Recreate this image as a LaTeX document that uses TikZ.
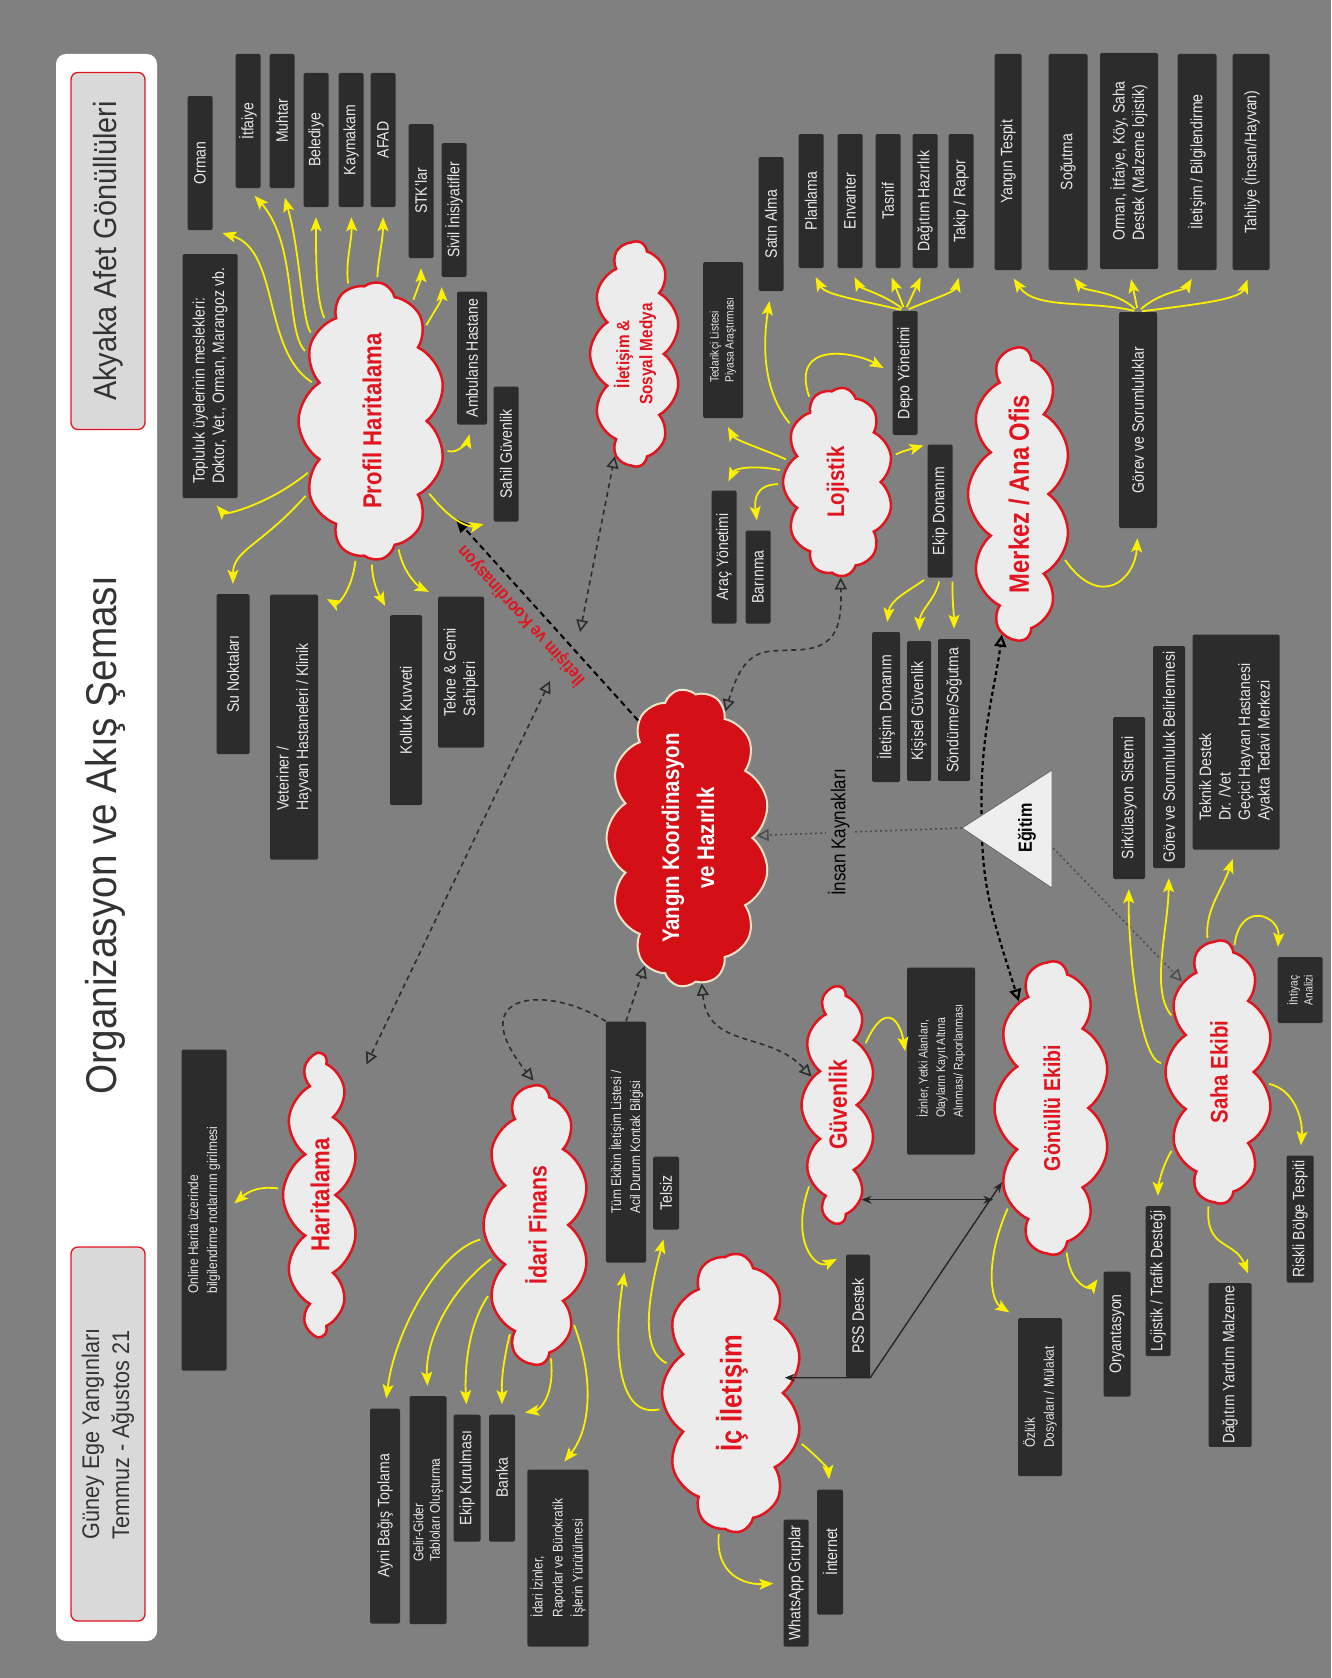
\documentclass[tikz,border=0pt]{standalone}
\usepackage{fontspec}
\setmainfont{Liberation Sans}[FakeStretch=0.85]
\newfontfamily\baslikfont{Liberation Sans}[FakeStretch=0.9]
\usetikzlibrary{positioning,shapes.symbols,shapes.geometric,arrows.meta}

\definecolor{zemin}{RGB}{128,128,128}
\definecolor{kutukoyu}{RGB}{44,44,44}
\definecolor{kutuyazi}{RGB}{232,232,232}
\definecolor{bulutdolgu}{RGB}{236,236,236}
\definecolor{bulutkirmizi}{RGB}{226,20,30}
\definecolor{merkezkirmizi}{RGB}{212,16,22}
\definecolor{krem}{RGB}{242,228,200}
\definecolor{oksari}{RGB}{250,240,0}
\definecolor{kesikgri}{RGB}{45,45,45}
\definecolor{ucgen}{RGB}{238,238,238}

\tikzset{
  kutu/.style={fill=kutukoyu, text=kutuyazi, rotate=90, rounded corners=1.5pt, inner sep=3pt,
    align=left, minimum height=25pt, font=\fontsize{16.5}{19.5}\selectfont},
  kucukkutu/.style={kutu, font=\fontsize{12}{15}\selectfont},
  ortakutu/.style={kutu, font=\fontsize{14}{19}\selectfont},
  bulut/.style={cloud, cloud puffs=11, cloud puff arc=115, cloud ignores aspect, draw=bulutkirmizi,
    line width=2.5pt, fill=bulutdolgu, text=bulutkirmizi, rotate=90, inner sep=0pt, align=center,
    font=\bfseries\fontsize{24}{28}\selectfont},
  anabulut/.style={bulut, cloud puffs=13, fill=merkezkirmizi, draw=krem, line width=2pt, text=white,
    font=\bfseries\fontsize{24}{35}\selectfont},
  baslikkutu/.style={fill=bulutdolgu!92!black, draw=bulutkirmizi, line width=1.3pt, rounded corners=7pt,
    rotate=90, align=left, text=black!80, font=\baslikfont\fontsize{24}{30}\selectfont},
  ok/.style={draw=oksari, line width=1.8pt, shorten >=10pt, shorten <=4pt,
    -{Stealth[length=14pt,width=11pt,inset=3pt]}},
  bag/.style={draw=kesikgri, line width=1.6pt, dash pattern=on 5pt off 4pt},
  agirbag/.style={draw=black, line width=2.2pt, dash pattern=on 4pt off 3pt},
  noktali/.style={draw=black!70, line width=1.5pt, dash pattern=on 2pt off 3pt},
  uc/.style={-{Triangle[open,length=12pt,width=12pt]}},
  ikiuc/.style={{Triangle[open,length=12pt,width=12pt]}-{Triangle[open,length=12pt,width=12pt]}},
  anabag/.style={draw=black, line width=2pt, dash pattern=on 6pt off 4pt, -{Triangle[length=14pt,width=12pt]}},
  siyahok/.style={draw=black!85, line width=1.4pt,
    {Stealth[length=10pt,width=8pt]}-{Stealth[length=10pt,width=8pt]}}
}

\begin{document}
\begin{tikzpicture}[x=1pt, y=-1pt]
    \useasboundingbox (0,0) rectangle (1331,1678);
    \fill[zemin] (0,0) rectangle (1331,1678);

    % Title panel
    \fill[white, rounded corners=10pt] (56,54) rectangle (157,1641);
    \node[baslikkutu, minimum width=357pt, minimum height=74pt,
      font=\baslikfont\fontsize{32}{36}\selectfont] (akyaka) at (108,251) {Akyaka Afet Gönüllüleri};
    \node[baslikkutu, minimum width=374pt, minimum height=74pt] (guney) at (108,1434)
      {Güney Ege Yangınları\\Temmuz - Ağustos 21};
    \node[rotate=90, text=black!80, font=\baslikfont\fontsize{43}{48}\selectfont] (baslik) at (105,835)
      {Organizasyon ve Akış Şeması};

    % Clouds
    \node[anabulut, minimum width=293pt, minimum height=163pt] (yangin) at (688,838)
      {Yangın Koordinasyon\\ve Hazırlık};
    \node[bulut, minimum width=278pt, minimum height=147pt, font=\bfseries\fontsize{26}{30}\selectfont]
      (profil) at (372,421) {Profil Haritalama};
    \node[bulut, minimum width=225pt, minimum height=90pt, font=\bfseries\fontsize{18}{23}\selectfont]
      (sosyal) at (635,354) {İletişim \&\\Sosyal Medya};
    \node[bulut, minimum width=189pt, minimum height=110pt] (lojistik) at (838,482) {Lojistik};
    \node[bulut, minimum width=292pt, minimum height=102pt, font=\bfseries\fontsize{28}{30}\selectfont]
      (merkez) at (1019,494) {Merkez / Ana Ofis};
    \node[bulut, minimum width=281pt, minimum height=74pt, font=\bfseries\fontsize{26}{30}\selectfont]
      (haritalama) at (320,1195) {Haritalama};
    \node[bulut, minimum width=279pt, minimum height=105pt, font=\bfseries\fontsize{25}{30}\selectfont]
      (idari) at (536,1225) {İdari Finans};
    \node[bulut, minimum width=279pt, minimum height=140pt, font=\bfseries\fontsize{30}{32}\selectfont]
      (iciletisim) at (732,1393) {İç İletişim};
    \node[bulut, minimum width=236pt, minimum height=73pt, font=\bfseries\fontsize{25}{30}\selectfont]
      (guvenlik) at (838,1105) {Güvenlik};
    \node[bulut, minimum width=293pt, minimum height=115pt, font=\bfseries\fontsize{23}{28}\selectfont]
      (gonullu) at (1052,1108) {Gönüllü Ekibi};
    \node[bulut, minimum width=263pt, minimum height=107pt] (saha) at (1219,1072) {Saha Ekibi};

    % Profil Haritalama boxes
    \foreach \n/\x/\y/\t in {orman/200/163/Orman, itfaiye/248/121/İtfaiye, muhtar/282/121/Muhtar,
        belediye/316/140/Belediye, kaymakam/351/140/Kaymakam, afad/383/140/AFAD,
        stk/421/191/STK'lar, sivil/454/210/Sivil İnisiyatifler} {
        \node[kutu, minimum width=134pt] (\n) at (\x,\y) {\t};
    }
    \node[kutu, minimum width=133pt, minimum height=30pt] (ambulans) at (472,358) {Ambulans Hastane};
    \node[kutu, minimum width=135pt] (sahil) at (506,454) {Sahil Güvenlik};
    \node[kutu, minimum width=244pt, minimum height=55pt] (topluluk) at (210,376)
      {Topluluk üyelerinin meslekleri:\\Doktor, Vet., Orman, Marangoz vb.};
    \node[kutu, minimum width=160pt, minimum height=33pt] (sunoktalari) at (233,674) {Su Noktaları};
    \node[kutu, minimum width=265pt, minimum height=48pt] (veteriner) at (294,727)
      {Veteriner /\\Hayvan Hastaneleri / Klinik};
    \node[kutu, minimum width=190pt, minimum height=32pt] (kolluk) at (406,710) {Kolluk Kuvveti};
    \node[kutu, minimum width=151pt, minimum height=46pt] (tekne) at (461,672) {Tekne \& Gemi\\Sahipleri};

    % Lojistik boxes
    \foreach \n/\x/\y/\t in {satinalma/771/224/Satın Alma, planlama/811/201/Planlama,
        envanter/850/201/Envanter, tasnif/888/201/Tasnif, dagitim/925/201/Dağıtım Hazırlık,
        takip/961/201/{Takip / Rapor}} {
        \node[kutu, minimum width=134pt] (\n) at (\x,\y) {\t};
    }
    \node[kucukkutu, minimum width=156pt, minimum height=40pt] (tedarikci) at (723,340)
      {Tedarikçi Listesi\\Piyasa Araştırması};
    \node[kutu, minimum width=133pt] (arac) at (724,557) {Araç Yönetimi};
    \node[kutu, minimum width=93pt] (barinma) at (758,577) {Barınma};
    \node[kutu, minimum width=124pt] (depo) at (905,373) {Depo Yönetimi};
    \node[kutu, minimum width=133pt] (ekipdonanim) at (940,511) {Ekip Donanım};
    \node[kutu, minimum width=150pt, minimum height=28pt] (iletisimdonanim) at (886,707) {İletişim Donanım};
    \node[kutu, minimum width=140pt, minimum height=24pt] (kisisel) at (919,711) {Kişisel Güvenlik};
    \node[kutu, minimum width=142pt, minimum height=32pt] (sondurme) at (954,710) {Söndürme/Soğutma};

    % Merkez boxes
    \node[kutu, minimum width=216pt, minimum height=38pt] (gorev) at (1138,420) {Görev ve Sorumluluklar};
    \foreach \n/\x/\w/\t in {yangintespit/1008/27/Yangın Tespit, sogutma/1068/39/Soğutma,
        iletisimbilg/1197/39/{İletişim / Bilgilendirme}, tahliye/1251/37/{Tahliye (İnsan/Hayvan)}} {
        \node[kutu, minimum width=216pt, minimum height=\w pt] (\n) at (\x,162) {\t};
    }
    \node[kutu, minimum width=216pt, minimum height=58pt] (ormanitfaiye) at (1129,161)
      {Orman, İtfaiye, Köy, Saha\\Destek (Malzeme lojistik)};

    % Saha boxes
    \node[kutu, minimum width=162pt, minimum height=32pt] (sirkulasyon) at (1129,798) {Sirkülasyon Sistemi};
    \node[kutu, minimum width=222pt, minimum height=32pt] (gorevbel) at (1169,757)
      {Görev ve Sorumluluk Belirlenmesi};
    \node[kutu, minimum width=215pt, minimum height=87pt] (teknik) at (1236,742)
      {Teknik Destek\\Dr. /Vet\\Geçici Hayvan Hastanesi\\Ayakta Tedavi Merkezi};
    \node[kucukkutu, minimum width=66pt, minimum height=45pt] (ihtiyac) at (1300,990) {İhtiyaç\\Analizi};
    \node[kutu, minimum width=127pt, minimum height=27pt] (riskli) at (1300,1219) {Riskli Bölge Tespiti};
    \node[kutu, minimum width=157pt, minimum height=43pt] (dagitimyardim) at (1230,1365)
      {Dağıtım Yardım Malzeme};
    \node[kutu, minimum width=150pt] (lojistiktrafik) at (1158,1281) {Lojistik / Trafik Desteği};

    % Gonullu and Guvenlik boxes
    \node[kutu, minimum width=125pt, minimum height=27pt] (oryantasyon) at (1117,1334) {Oryantasyon};
    \node[ortakutu, minimum width=158pt, minimum height=44pt] (ozluk) at (1040,1397)
      {Özlük\\Dosyaları / Mülakat};
    \node[kucukkutu, minimum width=187pt, minimum height=68pt, font=\fontsize{12.5}{17.5}\selectfont]
      (izinler) at (941,1061) {İzinler, Yetki Alanları,\\Olayların Kayıt Altına\\Alınması/ Raporlanması};
    \node[kutu, minimum width=123pt, minimum height=24pt] (pss) at (858,1316) {PSS Destek};

    % Ic Iletisim boxes
    \node[ortakutu, minimum width=241pt, minimum height=38pt] (tumekip) at (626,1142)
      {Tüm Ekibin İletişim Listesi /\\Acil Durum Kontak Bilgisi};
    \node[kutu, minimum width=73pt, minimum height=26pt] (telsiz) at (666,1193) {Telsiz};
    \node[kutu, minimum width=127pt] (whatsapp) at (796,1583) {WhatsApp Gruplar};
    \node[kutu, minimum width=125pt, minimum height=26pt] (internet) at (830,1552) {İnternet};

    % Idari Finans boxes
    \node[kutu, minimum width=215pt, minimum height=30pt] (ayni) at (385,1516) {Ayni Bağış Toplama};
    \node[ortakutu, minimum width=228pt, minimum height=37pt, font=\fontsize{14}{16.5}\selectfont]
      (gelir) at (428,1510) {Gelir-Gider\\Tabloları Oluşturma};
    \node[kutu, minimum width=127pt, minimum height=27pt] (ekipkur) at (467,1478) {Ekip Kurulması};
    \node[kutu, minimum width=127pt, minimum height=26pt] (banka) at (502,1478) {Banka};
    \node[ortakutu, minimum width=177pt, minimum height=61pt, font=\fontsize{14}{20}\selectfont]
      (idariizin) at (558,1558) {İdari İzinler,\\Raporlar ve Bürokratik\\İşlerin Yürütülmesi};

    % Haritalama box
    \node[ortakutu, minimum width=321pt, minimum height=45pt] (online) at (204,1210)
      {Online Harita üzerinde\\bilgilendirme notlarının girilmesi};

    % Dashed links to the centre
    \coordinate (sosyaluc) at (580,632);
    \coordinate (haritauc) at (550,681);
    \draw[bag, ikiuc] (sosyaluc) -- (sosyal);
    \draw[bag, ikiuc, shorten >=62pt] (haritauc) -- (haritalama.south east);
    \draw[bag, ikiuc] (yangin) .. controls (745,645) and (765,652) .. (792,650)
      .. controls (835,650) and (842,630) .. (lojistik);
    \draw[bag, uc] (tumekip.east) -- (yangin);
    \draw[bag, uc, shorten >=4pt] (tumekip.north east) .. controls (550,985) and (460,990) .. (idari.east);
    \draw[bag, ikiuc] (yangin) .. controls (708,1050) and (768,1030) .. (guvenlik);
    \draw[anabag, shorten >=40pt] (yangin.23) -- (profil.220)
      node[pos=0.5, sloped, allow upside down, above=3pt, text=bulutkirmizi,
        font=\bfseries\fontsize{18}{20}\selectfont] {İletişim ve Koordinasyon};

    % Egitim
    \coordinate (egtip) at (962,828);
    \coordinate (eghub) at (982,828);
    \coordinate (egbase) at (1053,848);
    \draw[agirbag, uc] (eghub) .. controls (978,740) and (995,690) .. (merkez);
    \draw[agirbag, uc] (eghub) .. controls (982,890) and (995,925) .. (gonullu);
    \draw[noktali, uc] (egtip) -- (yangin)
      node[pos=0.6, rotate=90, fill=zemin, inner sep=2pt, text=black,
        font=\fontsize{20}{22}\selectfont] (insan) {İnsan Kaynakları};
    \draw[noktali, uc] (egbase) -- (saha.north east);
    \filldraw[fill=ucgen, draw=black!60, line width=0.8pt] (egtip) -- (1052,770) -- (1052,888) -- cycle;
    \node[rotate=90, font=\bfseries\fontsize{19}{22}\selectfont] (egitim) at (1027,828) {Eğitim};

    % Black arrows
    \draw[siyahok] (guvenlik.194) -- (guvenlik.194 -| gonullu.north);
    \draw[siyahok] (pss.south west -| iciletisim.south) -- (pss.south west) -- (gonullu);

    % Profil Haritalama arrows
    \draw[ok] (profil) .. controls (262,350) and (280,250) .. (orman.south west);
    \draw[ok] (profil) .. controls (285,330) and (298,245) .. (itfaiye.west);
    \draw[ok] (profil) .. controls (302,320) and (300,250) .. (muhtar.west);
    \draw[ok] (profil) .. controls (316,300) and (316,260) .. (belediye.west);
    \draw[ok] (profil) .. controls (345,265) and (352,240) .. (kaymakam.west);
    \draw[ok] (profil) .. controls (378,260) and (383,240) .. (afad.west);
    \draw[ok] (profil) .. controls (415,295) and (421,280) .. (stk.west);
    \draw[ok] (profil) .. controls (435,310) and (442,300) .. (sivil.north west);
    \draw[ok] (profil) .. controls (458,455) and (468,440) .. (ambulans.west);
    \draw[ok] (profil) .. controls (462,535) and (480,525) .. (sahil.north west);
    \draw[ok] (profil) .. controls (268,505) and (225,515) .. (topluluk.west);
    \draw[ok] (profil) .. controls (262,545) and (233,550) .. (sunoktalari.east);
    \draw[ok] (profil) .. controls (352,590) and (338,605) .. (veteriner.south east);
    \draw[ok] (profil) .. controls (372,585) and (382,600) .. (kolluk.north east);
    \draw[ok] (profil) .. controls (405,580) and (425,590) .. (tekne.north east);

    % Haritalama and Idari Finans arrows
    \draw[ok] (haritalama) .. controls (262,1186) and (250,1190) .. (online.south);
    \draw[ok] (idari) .. controls (440,1250) and (395,1330) .. (ayni.east);
    \draw[ok] (idari) .. controls (450,1290) and (425,1340) .. (gelir.east);
    \draw[ok] (idari) .. controls (465,1330) and (465,1380) .. (ekipkur.east);
    \draw[ok] (idari) .. controls (500,1375) and (502,1390) .. (banka.east);
    \draw[ok] (idari) .. controls (555,1395) and (540,1410) .. (banka.south east);
    \draw[ok] (idari) .. controls (595,1380) and (590,1430) .. (idariizin.east);

    % Ic Iletisim and Guvenlik arrows
    \draw[ok] (iciletisim) .. controls (612,1420) and (615,1330) .. (tumekip.west);
    \draw[ok] (iciletisim) .. controls (638,1350) and (650,1290) .. (telsiz.west);
    \draw[ok] (iciletisim) .. controls (810,1450) and (828,1468) .. (internet.east);
    \draw[ok] (iciletisim) .. controls (715,1575) and (745,1585) .. (whatsapp.north);
    \draw[ok] (guvenlik) .. controls (790,1240) and (815,1270) .. (pss.north east);
    \draw[ok] (guvenlik) .. controls (885,1000) and (900,1020) .. (izinler.north);

    % Gonullu and Saha arrows
    \draw[ok] (gonullu) .. controls (985,1260) and (990,1300) .. (ozluk.north east);
    \draw[ok] (gonullu) .. controls (1070,1285) and (1090,1290) .. (oryantasyon.north east);
    \draw[ok] (saha) .. controls (1160,1170) and (1158,1190) .. (lojistiktrafik.east);
    \draw[ok] (saha) .. controls (1205,1250) and (1235,1240) .. (dagitimyardim.south east);
    \draw[ok] (saha) .. controls (1295,1090) and (1303,1120) .. (riskli.east);
    \draw[ok] (saha) .. controls (1140,1060) and (1128,950) .. (sirkulasyon.west);
    \draw[ok] (saha) .. controls (1150,990) and (1168,930) .. (gorevbel.west);
    \draw[ok] (saha) .. controls (1205,910) and (1222,890) .. (teknik.west);
    \draw[ok] (saha) .. controls (1240,900) and (1280,915) .. (ihtiyac.north east);

    % Merkez arrows
    \draw[ok] (merkez) .. controls (1100,610) and (1135,580) .. (gorev.west);
    \draw[ok] (gorev.east) .. controls (1090,300) and (1035,310) .. (yangintespit.west);
    \draw[ok] (gorev.east) .. controls (1115,290) and (1085,292) .. (sogutma.west);
    \draw[ok] (gorev.east) -- (ormanitfaiye.west);
    \draw[ok] (gorev.east) .. controls (1160,292) and (1185,290) .. (iletisimbilg.west);
    \draw[ok] (gorev.east) .. controls (1190,305) and (1240,300) .. (tahliye.west);

    % Lojistik arrows
    \draw[ok] (lojistik) .. controls (790,340) and (855,352) .. (depo.north);
    \draw[ok] (lojistik) .. controls (758,385) and (765,330) .. (satinalma.west);
    \draw[ok] (lojistik) .. controls (760,448) and (735,440) .. (tedarikci.west);
    \draw[ok] (lojistik) .. controls (755,465) and (735,468) .. (arac.east);
    \draw[ok] (lojistik) .. controls (752,485) and (755,505) .. (barinma.east);
    \draw[ok, shorten >=4pt] (lojistik) .. controls (905,450) and (915,448) .. (ekipdonanim.north east);
    \draw[ok] (depo.east) .. controls (860,300) and (825,295) .. (planlama.west);
    \draw[ok] (depo.east) .. controls (885,295) and (860,288) .. (envanter.west);
    \draw[ok] (depo.east) -- (tasnif.west);
    \draw[ok] (depo.east) -- (dagitim.west);
    \draw[ok] (depo.east) .. controls (930,300) and (955,292) .. (takip.west);
    \draw[ok] (ekipdonanim.north west) .. controls (910,590) and (890,600) .. (iletisimdonanim.east);
    \draw[ok] (ekipdonanim.west) .. controls (935,600) and (920,610) .. (kisisel.east);
    \draw[ok] (ekipdonanim.south west) .. controls (952,600) and (954,615) .. (sondurme.east);
\end{tikzpicture}
\end{document}
